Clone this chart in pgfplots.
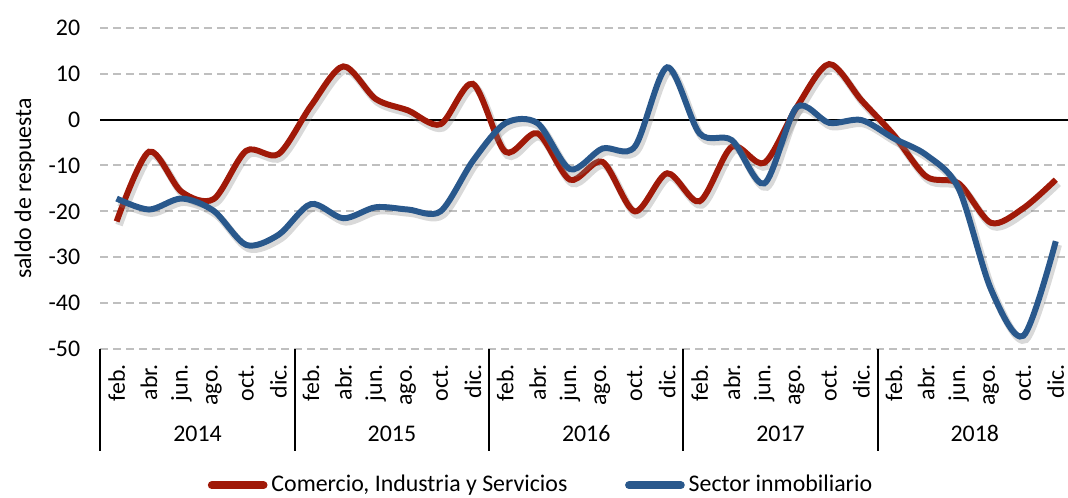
\documentclass[border=0pt]{standalone}
\usepackage{pgfplots}
\pgfplotsset{compat=1.18}
\usepackage{pgfplotstable}
\usepackage{fontspec}
\setmainfont{Carlito}

\definecolor{rojo}{RGB}{160,25,8}
\definecolor{azul}{RGB}{41,88,140}
\definecolor{rejilla}{RGB}{191,191,191}

% columnas: indice, Comercio-Industria-Servicios, Sector inmobiliario
\pgfplotstableread{
x   cis    inm
0  -22.2  -17.2
1   -7.0  -19.6
2  -15.7  -17.2
3  -17.3  -19.9
4   -6.8  -27.3
5   -7.5  -25.1
6    3.0  -18.4
7   11.6  -21.5
8    4.5  -19.1
9    2.0  -19.6
10  -1.0  -20.0
11   7.8   -9.0
12  -7.0   -0.8
13  -3.0   -0.8
14 -13.1  -10.8
15  -9.2   -6.3
16 -20.0   -5.9
17 -11.7   11.4
18 -17.8   -3.0
19  -5.9   -4.5
20  -9.4  -13.9
21   2.7    2.7
22  12.1   -0.7
23   4.2   -0.1
24  -3.4   -4.1
25 -12.4   -7.7
26 -13.9  -15.0
27 -22.5  -37.0
28 -19.3  -47.1
29 -13.1  -26.5
}\datos

\begin{document}
\fontsize{12}{14}\selectfont
\begin{tikzpicture}
\begin{axis}[
    scale only axis,
    width=488.5pt, height=161.5pt,
    xmin=-0.5, xmax=29.5,
    ymin=-50, ymax=20,
    ytick={-50,-40,...,20},
    xtick={0,...,29},
    xticklabels={feb.,abr.,jun.,ago.,oct.,dic.,feb.,abr.,jun.,ago.,oct.,dic.,
                 feb.,abr.,jun.,ago.,oct.,dic.,feb.,abr.,jun.,ago.,oct.,dic.,
                 feb.,abr.,jun.,ago.,oct.,dic.},
    axis line style={draw=none},
    major tick length=0pt,
    ymajorgrids=true,
    major grid style={rejilla, line width=1pt, dash pattern=on 4pt off 2.5pt},
    xticklabel style={yshift=-3.5pt, rotate=90, anchor=east, font=\fontsize{12}{14}\selectfont},
    yticklabel style={xshift=-6pt, font=\fontsize{12}{14}\selectfont},
    /pgf/number format/assume math mode=true,
    ylabel={saldo de respuesta},
    ylabel style={font=\fontsize{12}{14}\selectfont, at={(axis description cs:-0.078,0.5)}, anchor=center},
    clip=false,
    legend style={draw=none, fill=none, legend columns=2,
        at={(0.4545,-0.424)}, anchor=center,
        font=\fontsize{12}{14}\selectfont,
        /tikz/every even column/.append style={column sep=27pt},
        inner sep=0pt},
    legend image code/.code={\draw[#1, line width=4pt, line cap=round] (1pt,0pt) -- (27pt,0pt);},
]
\draw[black, line width=1pt] (axis cs:-0.5,0) -- (axis cs:29.5,0);

\addplot[forget plot, smooth, gray, opacity=0.3, line width=3.8pt, xshift=1.2pt, yshift=-1.8pt] table[x=x, y=cis] {\datos};
\addplot[smooth, rojo, line width=3pt] table[x=x, y=cis] {\datos};
\addplot[forget plot, smooth, gray, opacity=0.3, line width=3.8pt, xshift=1.2pt, yshift=-1.8pt] table[x=x, y=inm] {\datos};
\addplot[smooth, azul, line width=3pt] table[x=x, y=inm] {\datos};
\legend{{Comercio, Industria y Servicios}, {Sector inmobiliario}}

\pgfplotsinvokeforeach{-0.5,5.5,11.5,17.5,23.5}{
  \draw[black, line width=1pt] (axis cs:#1,-50) -- ++(0pt,-51.5pt);
}
\node[font=\fontsize{12}{14}\selectfont] at ([yshift=-42.5pt]axis cs:2.5,-50) {2014};
\node[font=\fontsize{12}{14}\selectfont] at ([yshift=-42.5pt]axis cs:8.5,-50) {2015};
\node[font=\fontsize{12}{14}\selectfont] at ([yshift=-42.5pt]axis cs:14.5,-50) {2016};
\node[font=\fontsize{12}{14}\selectfont] at ([yshift=-42.5pt]axis cs:20.5,-50) {2017};
\node[font=\fontsize{12}{14}\selectfont] at ([yshift=-42.5pt]axis cs:26.5,-50) {2018};
\coordinate (SW) at (rel axis cs:0,0);
\coordinate (NE) at (rel axis cs:1,1);
\end{axis}
\pgfresetboundingbox
\path ([xshift=-50.5pt,yshift=-74.9pt]SW) rectangle ([xshift=-2pt,yshift=14pt]NE);
\end{tikzpicture}
\end{document}
